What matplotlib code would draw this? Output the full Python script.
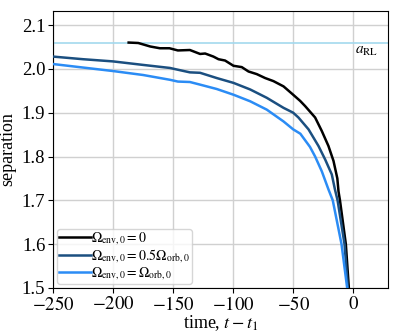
import matplotlib
matplotlib.use("Agg")
import matplotlib.pyplot as plt

plt.rcParams['font.family'] = ['Liberation Serif', 'DejaVu Serif']
plt.rcParams['mathtext.fontset'] = 'stix'

black_t = [-187, -179, -169, -161, -153, -146, -136, -127.5, -123.3, -116.4, -112.2, -106.7, -99.7, -92.8,
           -87.2, -80.3, -73.3, -66.4, -58, -50, -44.2, -40, -31.7, -26.1, -20.6, -16.4, -13.2, -12.2,
           -11, -6.1, -3.6]
black_y = [2.060, 2.059, 2.051, 2.047, 2.047, 2.042, 2.043, 2.034, 2.035, 2.028, 2.022, 2.019, 2.007, 2.004,
           1.994, 1.988, 1.979, 1.972, 1.960, 1.941, 1.927, 1.915, 1.889, 1.858, 1.824, 1.790, 1.750, 1.720,
           1.700, 1.600, 1.500]

dark_t = [-250, -225, -200, -175, -152.5, -146, -136, -127.5, -113.6, -99.7, -85.8, -72, -58, -50,
          -45.6, -37.2, -28.9, -23.3, -17.8, -15.2, -13, -7.2, -4.4]
dark_y = [2.028, 2.022, 2.017, 2.009, 2.002, 1.998, 1.992, 1.991, 1.979, 1.968, 1.953, 1.934, 1.911, 1.900,
          1.889, 1.862, 1.824, 1.793, 1.759, 1.725, 1.700, 1.600, 1.500]

light_t = [-250, -225, -200, -175, -152.5, -146, -136, -127.5, -113.6, -99.7, -85.8, -72, -58, -50,
           -44, -36, -31.7, -26.1, -20.6, -17, -9.7, -5]
light_y = [2.011, 2.003, 1.995, 1.986, 1.975, 1.971, 1.970, 1.964, 1.954, 1.941, 1.926, 1.907, 1.880, 1.862,
           1.852, 1.822, 1.800, 1.766, 1.725, 1.700, 1.600, 1.500]

a_RL = 2.06
labels = [r'$\Omega_{\rm env,0}=0$', r'$\Omega_{\rm env,0}=0.5\Omega_{\rm orb,0}$',
          r'$\Omega_{\rm env,0}=\Omega_{\rm orb,0}$']

fig = plt.figure(figsize=(3.99, 3.36), dpi=100)
ax = fig.add_axes([53/399, 1-288/336, (388-53)/399, (288-11)/336])

ax.axhline(a_RL, color='#a3d9ee', lw=1.2, zorder=1)
ax.plot(black_t, black_y, color='black', lw=1.8, label=labels[0], zorder=3)
ax.plot(dark_t, dark_y, color='#1b4f80', lw=1.8, label=labels[1], zorder=3)
ax.plot(light_t, light_y, color='#2b8cf5', lw=1.8, label=labels[2], zorder=3)

ax.text(21, 2.040, r'$a_{\rm RL}$', ha='right', va='center', fontsize=11)

ax.set_xlim(-250, 29)
ax.set_ylim(1.5, 2.132)
ax.set_xticks([-250, -200, -150, -100, -50, 0])
ax.set_yticks([1.5, 1.6, 1.7, 1.8, 1.9, 2.0, 2.1])
ax.set_xticklabels(['$-250$', '$-200$', '$-150$', '$-100$', '$-50$', '$0$'])
ax.set_yticklabels(['1.5', '1.6', '1.7', '1.8', '1.9', '2.0', '2.1'])
ax.tick_params(labelsize=13.5, pad=2)
ax.grid(True, color='#d0d0d0', lw=1)
ax.set_axisbelow(True)
ax.set_xlabel(r'time, $t-t_1$', fontsize=13, labelpad=0)
ax.set_ylabel('separation', fontsize=13, labelpad=4)

ax.legend(loc='lower left', fontsize=10, handlelength=2.3, handletextpad=0.0,
          borderpad=0.15, labelspacing=0.0, borderaxespad=0.3, framealpha=0.8)

fig.savefig('out.png', dpi=100)
